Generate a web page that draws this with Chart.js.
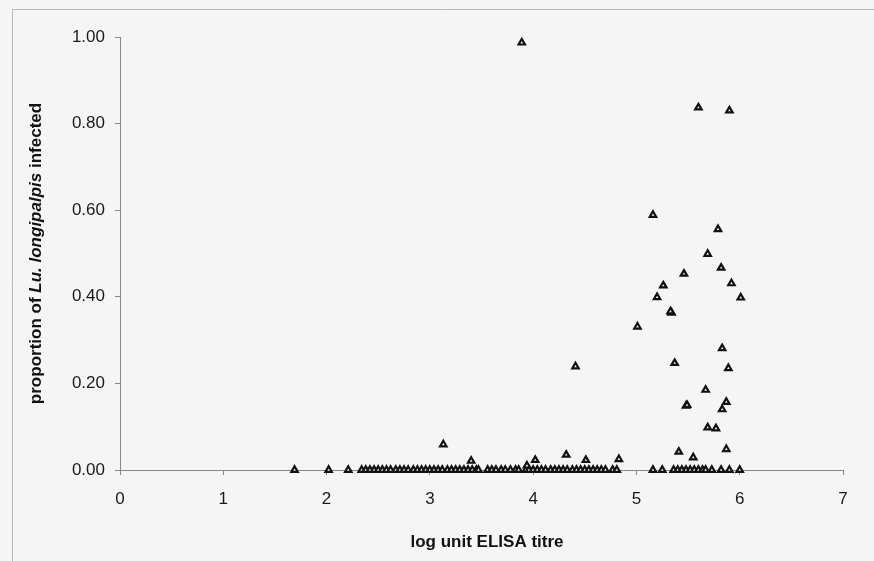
<!DOCTYPE html>
<html><head><meta charset="utf-8">
<script src="https://cdn.jsdelivr.net/npm/chart.js@4/dist/chart.umd.min.js"></script>
<style>html,body{margin:0;padding:0;background:#f5f5f5}#wrap{width:874px;height:561px;position:relative}</style>
</head><body><div id="wrap"><canvas id="c" width="874" height="561"></canvas></div>
<script>
// tick labels
const xTickLabels = ['0','1','2','3','4','5','6','7'];
const yTickLabels = ['0.00','0.20','0.40','0.60','0.80','1.00'];
const xTitle = 'log unit ELISA titre';
const yTitleParts = [['proportion of ', false], ['Lu. longipalpis', true], [' infected', false]];

// dogs with infected sandflies (log titre, proportion)
const titreA = [3.89,5.60,5.90,5.16,5.79,5.69,5.82,5.46,5.92,5.26,5.20,6.01,5.34,5.33,5.01,5.83,5.37,4.41,5.89,5.67,5.48,5.49,5.87,5.83,5.69,5.77,5.87,5.41,5.55,4.83,3.13,3.40,4.02,4.32,4.51,3.94];
const propA  = [0.987,0.837,0.830,0.589,0.556,0.499,0.467,0.453,0.431,0.426,0.399,0.398,0.363,0.366,0.331,0.281,0.247,0.239,0.235,0.185,0.148,0.150,0.157,0.140,0.098,0.096,0.048,0.042,0.029,0.025,0.059,0.021,0.023,0.035,0.023,0.010];

// dogs with no infected sandflies
const titreB = [1.69,2.02,2.21,2.34,2.38,2.42,2.46,2.50,2.54,2.58,2.62,2.67,2.71,2.75,2.79,2.84,2.88,2.92,2.96,3.00,3.04,3.08,3.12,3.17,3.21,3.25,3.29,3.33,3.37,3.41,3.45,3.47,3.56,3.60,3.64,3.69,3.73,3.78,3.83,3.86,3.93,3.96,4.00,4.04,4.08,4.12,4.17,4.21,4.25,4.29,4.33,4.38,4.42,4.46,4.50,4.54,4.58,4.62,4.66,4.70,4.77,4.81,5.16,5.25,5.36,5.40,5.44,5.48,5.52,5.56,5.60,5.64,5.67,5.73,5.82,5.90,6.00];
const propB  = [0,0,0,0,0,0,0,0,0,0,0,0,0,0,0,0,0,0,0,0,0,0,0,0,0,0,0,0,0,0,0,0,0,0,0,0,0,0,0,0,0,0,0,0,0,0,0,0,0,0,0,0,0,0,0,0,0,0,0,0,0,0,0,0,0,0,0,0,0,0,0,0,0,0,0,0,0];

const toPts = (xs, ys) => xs.map((x, i) => ({x: x, y: ys[i]}));

const FONT = "'Liberation Sans', Arial, sans-serif";

const bgPlugin = {
  id: 'bg',
  beforeDraw(chart) {
    const ctx = chart.ctx;
    ctx.save();
    ctx.fillStyle = '#f5f5f5';
    ctx.fillRect(0, 0, chart.width, chart.height);
    ctx.strokeStyle = '#b8b8b8';
    ctx.lineWidth = 1;
    ctx.beginPath();
    ctx.moveTo(12.5, 600); ctx.lineTo(12.5, 9.5); ctx.lineTo(900, 9.5);
    ctx.stroke();
    ctx.restore();
  }
};

const titlePlugin = {
  id: 'titles',
  afterDraw(chart) {
    const ctx = chart.ctx;
    const ca = chart.chartArea;
    ctx.save();
    ctx.fillStyle = '#111';
    ctx.textBaseline = 'middle';
    // x title
    ctx.font = "bold 17px " + FONT;
    ctx.textAlign = 'center';
    ctx.fillText(xTitle, 487, 542);
    // y title, mixed italic
    ctx.translate(36, (ca.top + ca.bottom) / 2);
    ctx.rotate(-Math.PI / 2);
    let total = 0;
    const widths = yTitleParts.map(([t, it]) => {
      ctx.font = (it ? 'italic ' : '') + 'bold 17px ' + FONT;
      const w = ctx.measureText(t).width; total += w; return w;
    });
    let x = -total / 2;
    ctx.textAlign = 'left';
    yTitleParts.forEach(([t, it], i) => {
      ctx.font = (it ? 'italic ' : '') + 'bold 17px ' + FONT;
      ctx.fillText(t, x, 0);
      x += widths[i];
    });
    ctx.restore();
  }
};

new Chart(document.getElementById('c'), {
  type: 'scatter',
  data: {
    datasets: [
      {data: toPts(titreA, propA)},
      {data: toPts(titreB, propB)}
    ]
  },
  options: {
    responsive: false,
    devicePixelRatio: 1,
    animation: false,
    layout: {padding: {left: 0, right: 31, top: 37, bottom: 0}},
    elements: {
      point: {pointStyle: 'triangle', radius: 3.7, borderWidth: 2.2, borderColor: '#111', backgroundColor: '#f5f5f5', hoverRadius: 3.7}
    },
    datasets: {scatter: {clip: false}},
    plugins: {legend: {display: false}, tooltip: {enabled: false}},
    scales: {
      x: {
        type: 'linear', min: 0, max: 7,
        afterFit(s) { s.height = 91; },
        border: {color: '#888', width: 1},
        grid: {drawOnChartArea: false, color: '#888', tickLength: 5},
        ticks: {stepSize: 1, padding: 14, color: '#1a1a1a', font: {family: FONT, size: 17},
          callback: (v, i) => xTickLabels[i]}
      },
      y: {
        min: 0, max: 1,
        afterFit(s) { s.width = 120; },
        border: {color: '#888', width: 1},
        grid: {drawOnChartArea: false, color: '#888', tickLength: 5},
        ticks: {stepSize: 0.2, padding: 10, color: '#1a1a1a', font: {family: FONT, size: 17},
          callback: (v, i) => yTickLabels[i]}
      }
    }
  },
  plugins: [bgPlugin, titlePlugin]
});
</script></body></html>
